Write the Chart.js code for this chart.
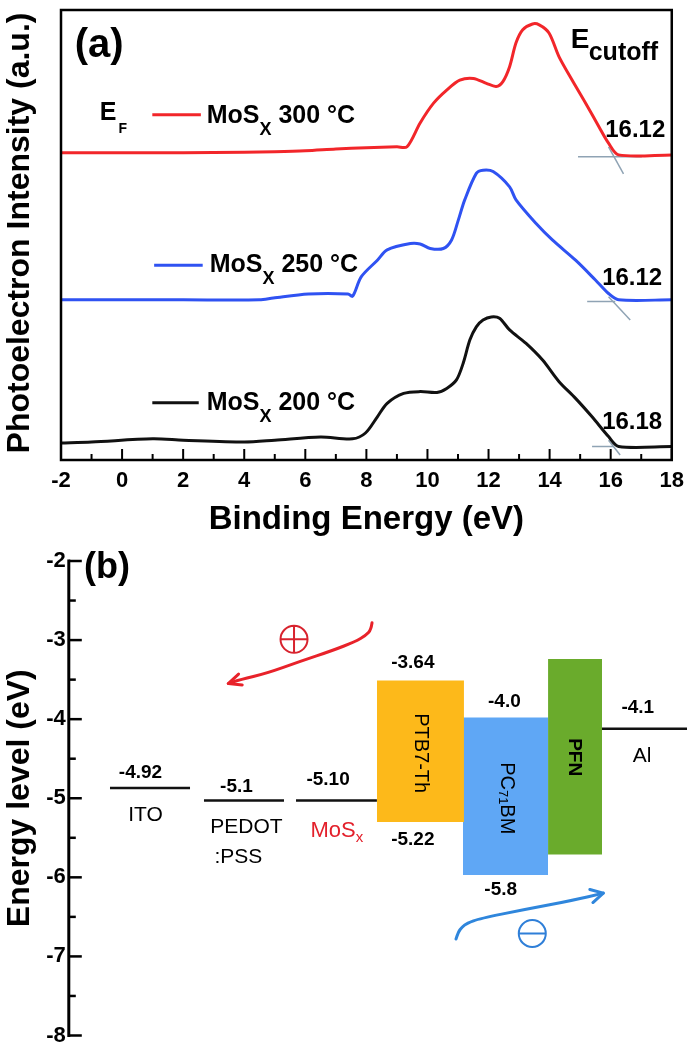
<!DOCTYPE html>
<html>
<head>
<meta charset="utf-8">
<script src="https://cdn.jsdelivr.net/npm/chart.js@4.4.0/dist/chart.umd.min.js"></script>
<style>
  html, body { margin: 0; padding: 0; background: #fff; width: 692px; height: 1046px; overflow: hidden; }
  canvas { position: absolute; left: 0; }
  #specChart { top: 0; }
  #levelChart { top: 540px; }
</style>
</head>
<body>
<canvas id="specChart" width="692" height="540"></canvas>
<canvas id="levelChart" width="692" height="520"></canvas>
<script>
const FONT = "'Liberation Sans', Arial, Helvetica, sans-serif";

// ---------- (a) UPS spectra ----------
const energy300 = [-2, 2, 4, 5, 6, 7, 8, 9, 9.33, 9.76, 10.2, 10.63, 11.06, 11.5, 11.93, 12.25, 12.47, 12.69, 12.9, 13.12, 13.44, 13.66, 13.98, 14.31, 14.74, 15.18, 15.61, 15.93, 16.26, 18];
const counts300 = [68.3, 68.3, 68.4, 68.5, 68.7, 69.1, 69.4, 69.6, 69.6, 74.9, 79.3, 82.2, 84.4, 84.8, 83.7, 83.0, 84.1, 87.4, 92.7, 95.6, 96.9, 96.7, 94.9, 89.6, 84.4, 79.3, 74.1, 70.4, 67.8, 67.8];

const energy250 = [-2, 2, 4.5, 4.95, 6.1, 7.4, 7.55, 7.83, 8.36, 8.68, 9.44, 9.76, 10.09, 10.52, 10.79, 11.01, 11.22, 11.6, 11.82, 12.15, 12.69, 12.9, 13.55, 14.09, 14.85, 15.5, 15.93, 16.26, 18];
const counts250 = [35.6, 35.6, 35.6, 36.0, 36.9, 36.9, 36.4, 40.7, 44.4, 46.7, 48.1, 48.0, 47.0, 47.0, 48.9, 53.3, 57.8, 63.7, 64.4, 64.1, 60.7, 57.8, 52.6, 48.9, 44.4, 40.0, 37.0, 35.6, 35.6];

const energy200 = [-2, -1, 1, 2, 4, 5, 6.5, 7.55, 7.97, 8.36, 8.68, 9.22, 9.76, 10.31, 10.63, 10.95, 11.17, 11.39, 11.6, 11.82, 12.09, 12.36, 12.69, 13.23, 13.77, 14.31, 14.85, 15.39, 15.93, 16.26, 18];
const counts200 = [3.8, 4.0, 4.7, 4.4, 4.0, 4.4, 5.1, 4.7, 6.0, 9.6, 12.6, 14.8, 15.2, 15.0, 15.9, 17.8, 21.5, 26.7, 29.6, 31.1, 31.8, 31.5, 28.9, 25.9, 22.2, 17.4, 13.7, 9.6, 5.2, 3.0, 3.0];

const sampleTemps = ['300 °C', '250 °C', '200 °C'];
const sampleColors = ['#f2262a', '#2f52f2', '#111111'];
const cutoffLabels = ['16.12', '16.12', '16.18'];

// grey extrapolation lines at the cutoff
const baseX = [[14.93, 17.02], [15.23, 16.15], [15.39, 16.09]];
const baseY = [67.4, 35.2, 3.0];
const slopeX = [[15.93, 16.42], [15.93, 16.64], [15.93, 16.31]];
const slopeY = [[69.6, 63.6], [36.3, 31.1], [4.4, 1.1]];

// label anchors (data units)
const legendLineX = [[0.99, 2.58], [1.05, 2.64], [0.99, 2.51]];
const legendLineY = [76.7, 43.3, 12.7];
const legendTextX = [2.77, 2.87, 2.77];
const legendTextY = [74.9, 41.8, 11.1];
const cutoffTextX = [15.82, 15.72, 15.72];
const cutoffTextY = [71.8, 38.9, 6.8];

const pts = (xs, ys) => xs.map((x, i) => ({ x: x, y: ys[i] }));

function richText(ctx, parts, x, y) {
  let cx = x;
  parts.forEach(p => {
    ctx.font = p.font;
    ctx.fillStyle = p.color || '#000';
    ctx.fillText(p.text, cx, y + (p.dy || 0));
    cx += ctx.measureText(p.text).width;
  });
}

const specDecor = {
  id: 'specDecor',
  afterDraw(chart) {
    const { ctx, chartArea: a, scales: { x, y } } = chart;
    const X = v => x.getPixelForValue(v), Y = v => y.getPixelForValue(v);
    ctx.save();
    ctx.strokeStyle = '#000';
    ctx.lineWidth = 2;
    for (let v = -2; v <= 18; v++) {
      const len = v % 2 === 0 ? 11 : 6;
      ctx.beginPath();
      ctx.moveTo(X(v), a.bottom);
      ctx.lineTo(X(v), a.bottom - len);
      ctx.stroke();
    }
    ctx.lineWidth = 2.5;
    ctx.strokeRect(a.left, a.top, a.right - a.left, a.bottom - a.top);

    // y title, drawn by hand so it is not squeezed
    ctx.save();
    ctx.translate(20, (a.top + a.bottom) / 2 - 2);
    ctx.rotate(-Math.PI / 2);
    ctx.textAlign = 'center';
    ctx.textBaseline = 'middle';
    ctx.fillStyle = '#000';
    ctx.font = `bold 32px ${FONT}`;
    ctx.fillText('Photoelectron Intensity (a.u.)', 0, 0);
    ctx.restore();

    // legend
    ctx.textAlign = 'left';
    ctx.textBaseline = 'alphabetic';
    for (let i = 0; i < 3; i++) {
      ctx.strokeStyle = sampleColors[i];
      ctx.lineWidth = 3;
      ctx.beginPath();
      ctx.moveTo(X(legendLineX[i][0]), Y(legendLineY[i]));
      ctx.lineTo(X(legendLineX[i][1]), Y(legendLineY[i]));
      ctx.stroke();
      richText(ctx, [
        { text: 'MoS', font: `bold 25px ${FONT}` },
        { text: 'X', font: `bold 18px ${FONT}`, dy: 12 },
        { text: ' ' + sampleTemps[i], font: `bold 25px ${FONT}` }
      ], X(legendTextX[i]), Y(legendTextY[i]));
      ctx.font = `bold 24px ${FONT}`;
      ctx.fillStyle = '#000';
      ctx.fillText(cutoffLabels[i], X(cutoffTextX[i]), Y(cutoffTextY[i]));
    }
    richText(ctx, [{ text: 'E', font: `bold 25px ${FONT}` }], X(-0.734), Y(75.6));
    richText(ctx, [{ text: 'F', font: `bold 14px ${FONT}` }], X(-0.117), Y(72.7));
    richText(ctx, [{ text: 'E', font: `bold 28px ${FONT}` }], X(14.69), Y(91.5));
    richText(ctx, [{ text: 'cutoff', font: `bold 25px ${FONT}` }], X(15.28), Y(88.9));
    ctx.textAlign = 'center';
    ctx.textBaseline = 'middle';
    ctx.font = `bold 40px ${FONT}`;
    ctx.fillStyle = '#000';
    ctx.fillText('(a)', X(-0.75), Y(91.9));
    ctx.restore();
  }
};

const specSets = [[energy300, counts300], [energy250, counts250], [energy200, counts200]].map((s, i) => ({
  data: pts(s[0], s[1]),
  borderColor: sampleColors[i],
  borderWidth: 3,
  pointRadius: 0,
  tension: 0.3,
  fill: false
}));
for (let i = 0; i < 3; i++) {
  specSets.push({ data: pts(baseX[i], [baseY[i], baseY[i]]), borderColor: '#8fa3b4', borderWidth: 1.5, pointRadius: 0, fill: false });
  specSets.push({ data: pts(slopeX[i], slopeY[i]), borderColor: '#8fa3b4', borderWidth: 1.5, pointRadius: 0, fill: false });
}

new Chart(document.getElementById('specChart'), {
  type: 'line',
  data: { datasets: specSets },
  options: {
    responsive: false,
    animation: false,
    layout: { padding: { top: 10, right: 15, left: 0, bottom: 0 } },
    plugins: { legend: { display: false }, tooltip: { enabled: false } },
    scales: {
      x: {
        type: 'linear', min: -2, max: 18,
        ticks: { stepSize: 2, color: '#000', padding: 8, maxRotation: 0, font: { family: FONT, size: 22, weight: 'bold' } },
        grid: { display: false, drawTicks: false },
        border: { display: false },
        title: { display: true, text: 'Binding Energy (eV)', color: '#000', padding: { top: 0, bottom: 0 }, font: { family: FONT, size: 33, weight: 'bold' } },
        afterFit: s => { s.height = 80; }
      },
      y: {
        type: 'linear', min: 0, max: 100,
        ticks: { display: false },
        grid: { display: false, drawTicks: false },
        border: { display: false },
        afterFit: s => { s.width = 61; }
      }
    }
  },
  plugins: [specDecor]
});

// ---------- (b) energy level diagram ----------
const boxNames = ['PTB7-Th', 'PC71BM', 'PFN'];
const boxLeft = [49.44, 63.25, 76.9];
const boxRight = [63.41, 76.9, 85.56];
const boxLumo = [-3.51, -3.98, -3.24];
const boxHomo = [-5.30, -5.97, -5.71];
const boxColors = ['#fdb91a', '#5fa7f5', '#6aab2c'];

const levelNames = ['ITO', 'PEDOT:PSS', 'MoSx', 'Al'];
const levelLeft = [6.61, 21.69, 36.46, 85.4];
const levelRight = [19.45, 34.53, 49.44, 99.2];
const levelValue = [-4.87, -5.03, -5.03, -4.12];

const energyLabels = ['-4.92', '-5.1', '-5.10', '-3.64', '-5.22', '-4.0', '-5.8', '-4.1'];
const energyLabelX = [11.5, 26.9, 41.6, 55.2, 55.2, 69.9, 69.3, 91.3];
const energyLabelY = [-4.68, -4.85, -4.76, -3.29, -5.53, -3.78, -6.16, -3.85];

const nameLabels = ['ITO', 'PEDOT', ':PSS', 'Al'];
const nameLabelX = [12.3, 28.5, 27.2, 92.0];
const nameLabelY = [-5.21, -5.36, -5.74, -4.47];

const boxLabelX = [56.5, 70.2, 81.1];
const boxLabelY = [-4.43, -5.0, -4.48];

// charge transfer arrows
const holeX = [48.66, 48.49, 47.69, 45.93, 42.39, 37.1, 31.75, 27.47, 25.59];
const holeY = [-2.78, -2.87, -2.94, -3.02, -3.13, -3.27, -3.42, -3.50, -3.55];
const electronX = [62.13, 62.5, 63.1, 63.9, 65.98, 72.93, 80.95, 85.77];
const electronY = [-6.78, -6.69, -6.63, -6.58, -6.52, -6.41, -6.29, -6.20];
const chargeX = [36.14, 74.37];
const chargeY = [-2.99, -6.71];

function drawArrow(ctx, P, color, spread) {
  ctx.strokeStyle = color;
  ctx.lineWidth = 3;
  ctx.lineCap = 'round';
  ctx.lineJoin = 'round';
  ctx.beginPath();
  ctx.moveTo(P[0][0], P[0][1]);
  for (let i = 1; i < P.length - 1; i++) {
    const mx = (P[i][0] + P[i + 1][0]) / 2, my = (P[i][1] + P[i + 1][1]) / 2;
    ctx.quadraticCurveTo(P[i][0], P[i][1], mx, my);
  }
  const t = P[P.length - 1], q = P[P.length - 2];
  ctx.lineTo(t[0], t[1]);
  ctx.stroke();
  const ang = Math.atan2(q[1] - t[1], q[0] - t[0]);
  ctx.beginPath();
  ctx.moveTo(t[0] + 14 * Math.cos(ang - spread), t[1] + 14 * Math.sin(ang - spread));
  ctx.lineTo(t[0], t[1]);
  ctx.lineTo(t[0] + 14 * Math.cos(ang + spread), t[1] + 14 * Math.sin(ang + spread));
  ctx.stroke();
}

function rotText(ctx, parts, cx, cy) {
  ctx.save();
  ctx.translate(cx, cy);
  ctx.rotate(Math.PI / 2);
  let w = 0;
  parts.forEach(p => { ctx.font = p.font; w += ctx.measureText(p.text).width; });
  let px = -w / 2;
  ctx.textAlign = 'left';
  ctx.textBaseline = 'middle';
  ctx.fillStyle = '#000';
  parts.forEach(p => { ctx.font = p.font; ctx.fillText(p.text, px, p.dy || 0); px += ctx.measureText(p.text).width; });
  ctx.restore();
}

const levelDecor = {
  id: 'levelDecor',
  afterDraw(chart) {
    const { ctx, chartArea: a, scales: { x, y } } = chart;
    const X = v => x.getPixelForValue(v), Y = v => y.getPixelForValue(v);
    ctx.save();
    ctx.strokeStyle = '#000';
    ctx.lineWidth = 3;
    ctx.beginPath();
    ctx.moveTo(a.left, Y(-2) - 1.5);
    ctx.lineTo(a.left, Y(-8) + 1.5);
    ctx.stroke();
    ctx.lineWidth = 2.5;
    for (let v = -8; v <= -2; v += 0.5) {
      const len = Number.isInteger(v) ? 13 : 7;
      ctx.beginPath();
      ctx.moveTo(a.left, Y(v));
      ctx.lineTo(a.left + len, Y(v));
      ctx.stroke();
    }

    ctx.textAlign = 'left';
    ctx.textBaseline = 'middle';
    ctx.fillStyle = '#000';
    ctx.font = `bold 36px ${FONT}`;
    ctx.fillText('(b)', X(2.44), Y(-2.09));

    ctx.textAlign = 'center';
    ctx.font = `bold 19px ${FONT}`;
    energyLabels.forEach((t, i) => ctx.fillText(t, X(energyLabelX[i]), Y(energyLabelY[i])));
    ctx.font = `21px ${FONT}`;
    nameLabels.forEach((t, i) => ctx.fillText(t, X(nameLabelX[i]), Y(nameLabelY[i])));

    // MoSx in red with subscript
    ctx.font = `22px ${FONT}`;
    const w1 = ctx.measureText('MoS').width;
    ctx.font = `15px ${FONT}`;
    const w2 = ctx.measureText('x').width;
    ctx.textAlign = 'left';
    ctx.textBaseline = 'alphabetic';
    richText(ctx, [
      { text: 'MoS', font: `22px ${FONT}`, color: '#e3202b' },
      { text: 'x', font: `15px ${FONT}`, color: '#e3202b', dy: 5 }
    ], X(43.0) - (w1 + w2) / 2, Y(-5.39) + 8);

    rotText(ctx, [{ text: boxNames[0], font: `20px ${FONT}` }], X(boxLabelX[0]), Y(boxLabelY[0]));
    rotText(ctx, [
      { text: 'PC', font: `20px ${FONT}` },
      { text: '71', font: `13px ${FONT}`, dy: 4 },
      { text: 'BM', font: `20px ${FONT}` }
    ], X(boxLabelX[1]), Y(boxLabelY[1]));
    rotText(ctx, [{ text: boxNames[2], font: `bold 19px ${FONT}` }], X(boxLabelX[2]), Y(boxLabelY[2]));

    drawArrow(ctx, holeX.map((v, i) => [X(v), Y(holeY[i])]), '#e8222a', 0.42);
    drawArrow(ctx, electronX.map((v, i) => [X(v), Y(electronY[i])]), '#2f86dc', 0.5);

    // charge symbols
    ctx.lineWidth = 2;
    ctx.lineCap = 'butt';
    const colors = ['#d8232e', '#2f7fd8'];
    for (let i = 0; i < 2; i++) {
      const cx = X(chargeX[i]), cy = Y(chargeY[i]), r = 13.5;
      ctx.strokeStyle = colors[i];
      ctx.beginPath();
      ctx.arc(cx, cy, r, 0, Math.PI * 2);
      ctx.moveTo(cx - r, cy);
      ctx.lineTo(cx + r, cy);
      if (i === 0) { ctx.moveTo(cx, cy - r); ctx.lineTo(cx, cy + r); }
      ctx.stroke();
    }
    ctx.restore();
  }
};

const levelSets = [];
for (let i = 0; i < boxNames.length; i++) {
  levelSets.push({
    data: pts([boxLeft[i], boxRight[i]], [boxLumo[i], boxLumo[i]]),
    borderWidth: 0, pointRadius: 0, fill: '+1', backgroundColor: boxColors[i], borderColor: boxColors[i]
  });
  levelSets.push({
    data: pts([boxLeft[i], boxRight[i]], [boxHomo[i], boxHomo[i]]),
    borderWidth: 0, pointRadius: 0, fill: false, borderColor: boxColors[i]
  });
}
for (let i = 0; i < levelNames.length; i++) {
  levelSets.push({
    data: pts([levelLeft[i], levelRight[i]], [levelValue[i], levelValue[i]]),
    borderColor: '#111', borderWidth: 2.5, pointRadius: 0, fill: false
  });
}

new Chart(document.getElementById('levelChart'), {
  type: 'line',
  data: { datasets: levelSets },
  options: {
    responsive: false,
    animation: false,
    layout: { padding: { top: 21, bottom: 24.5, left: 0, right: 0 } },
    plugins: { legend: { display: false }, tooltip: { enabled: false } },
    scales: {
      x: { type: 'linear', display: false, min: 0, max: 100 },
      y: {
        type: 'linear', min: -8, max: -2,
        ticks: { stepSize: 1, color: '#000', padding: 3, font: { family: FONT, size: 22, weight: 'bold' } },
        grid: { display: false, drawTicks: false },
        border: { display: false },
        title: { display: true, text: 'Energy level (eV)', color: '#000', padding: { top: 1, bottom: 0 }, font: { family: FONT, size: 32, weight: 'bold' } },
        afterFit: s => { s.width = 68.8; }
      }
    }
  },
  plugins: [levelDecor]
});
</script>
</body>
</html>
